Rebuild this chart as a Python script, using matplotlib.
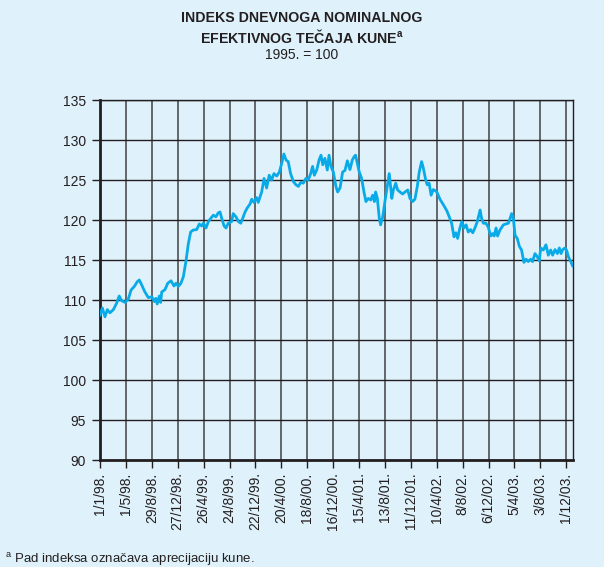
import numpy as np
import pandas as pd
import matplotlib
matplotlib.use("Agg")
import matplotlib.pyplot as plt

# ---- data ----
start_date = "1998-01-01"
days = [0, 11, 23, 34, 46, 62, 77, 89, 101, 116, 131, 144, 159, 173, 182, 193, 208, 224, 240, 252,
        259, 265, 275, 281, 286, 301, 314, 329, 343, 352, 363, 375, 386, 398, 409, 420, 432, 448, 460, 471,
        479, 491, 502, 513, 525, 537, 548, 556, 564, 575, 584, 594, 610, 617, 630, 641, 652, 661, 672, 682,
        695, 703, 713, 726, 733, 749, 760, 772, 784, 795, 806, 819, 831, 842, 852, 862, 872, 883, 896, 908,
        919, 930, 942, 954, 965, 976, 985, 993, 1004, 1015, 1024, 1032, 1042, 1053, 1061, 1070, 1081, 1093, 1101, 1112,
        1124, 1135, 1146, 1158, 1169, 1177, 1184, 1192, 1201, 1212, 1223, 1232, 1243, 1254, 1263, 1271, 1277, 1285, 1294, 1300,
        1310, 1320, 1331, 1340, 1352, 1359, 1370, 1379, 1390, 1402, 1413, 1426, 1436, 1448, 1459, 1470, 1479, 1490, 1498, 1509,
        1516, 1525, 1534, 1544, 1557, 1564, 1575, 1591, 1606, 1618, 1629, 1640, 1649, 1657, 1665, 1676, 1686, 1696, 1706, 1717,
        1727, 1737, 1748, 1761, 1768, 1776, 1788, 1799, 1810, 1819, 1826, 1835, 1842, 1853, 1869, 1881, 1892, 1900, 1907, 1915,
        1923, 1933, 1943, 1953, 1964, 1974, 1984, 1995, 2004, 2015, 2026, 2035, 2042, 2054, 2066, 2077, 2088, 2097, 2108, 2119,
        2128, 2136, 2144, 2154, 2162, 2170, 2181, 2190]
index_values = [108.1, 109.0, 107.9, 108.8, 108.4, 108.8, 109.6, 110.5, 109.9, 109.7, 110.1, 111.25, 111.7, 112.3, 112.5, 111.9, 111.0, 110.3, 110.4, 109.8,
                110.2, 109.5, 110.5, 109.7, 111.0, 111.3, 112.1, 112.4, 111.75, 112.1, 111.7, 112.1, 112.9, 114.8, 117.0, 118.5, 118.75, 118.8, 119.5, 119.25,
                119.6, 119.0, 119.8, 120.2, 120.6, 120.4, 120.9, 121.0, 120.2, 119.25, 119.0, 119.6, 119.8, 120.8, 120.4, 119.8, 119.6, 120.2, 121.0, 121.5,
                122.0, 122.6, 122.2, 122.8, 122.2, 123.5, 125.2, 124.0, 125.6, 125.0, 125.8, 125.5, 126.0, 127.1, 128.25, 127.5, 127.3, 125.8, 124.8, 124.4,
                124.2, 124.7, 124.6, 125.2, 125.0, 125.8, 126.7, 125.6, 126.25, 127.5, 128.1, 126.9, 127.7, 126.25, 128.1, 126.7, 126.0, 124.2, 123.5, 124.0,
                126.0, 126.2, 127.4, 126.3, 127.5, 127.9, 128.1, 127.1, 126.0, 125.2, 123.5, 122.3, 122.7, 122.5, 123.1, 122.3, 123.5, 122.7, 120.2, 119.4,
                120.4, 122.3, 124.2, 125.8, 122.7, 123.75, 124.6, 123.75, 123.5, 123.25, 123.5, 123.75, 122.7, 122.3, 122.6, 124.2, 126.0, 127.3, 126.5, 125.0,
                124.4, 124.6, 123.1, 123.8, 123.6, 123.3, 122.6, 121.9, 121.2, 120.4, 119.6, 117.9, 118.4, 117.7, 118.75, 119.8, 119.0, 119.4, 118.5, 118.8,
                118.4, 119.0, 119.8, 121.25, 120.2, 119.6, 119.6, 119.1, 118.0, 118.3, 118.0, 119.0, 118.0, 118.75, 119.4, 119.5, 119.6, 120.2, 120.8, 120.2,
                118.1, 117.7, 116.7, 116.25, 114.7, 115.1, 114.8, 115.1, 114.8, 115.8, 115.4, 114.9, 116.5, 116.25, 116.9, 115.6, 116.25, 115.6, 116.3, 115.8,
                116.5, 115.8, 116.3, 116.5, 116.2, 115.4, 114.8, 114.25]
tick_labels = ["1/1/98.", "1/5/98.", "29/8/98.", "27/12/98.", "26/4/99.", "24/8/99.", "22/12/99.",
               "20/4/00.", "18/8/00.", "16/12/00.", "15/4/01.", "13/8/01.", "11/12/01.", "10/4/02.",
               "8/8/02.", "6/12/02.", "5/4/03.", "3/8/03.", "1/12/03."]
y_ticks = [90, 95, 100, 105, 110, 115, 120, 125, 130, 135]
end_date = "2003-12-31"

title_line1 = "INDEKS DNEVNOGA NOMINALNOG"
title_line2 = "EFEKTIVNOG TEČAJA KUNE$^{\\mathregular{a}}$"
subtitle = "1995. = 100"
footnote = "$^{\\mathregular{a}}$ Pad indeksa označava aprecijaciju kune."

# ---- style ----
bg = "#dff1fb"
txt = "#231f20"
plt.rcParams["font.family"] = ["Liberation Sans", "DejaVu Sans"]
plt.rcParams["mathtext.fontset"] = "custom"
plt.rcParams["mathtext.rm"] = "Liberation Sans"
plt.rcParams["mathtext.bf"] = "Liberation Sans:bold"

fig = plt.figure(figsize=(6.04, 5.67), dpi=100, facecolor=bg)
ax = fig.add_axes([100 / 604, 1 - 460 / 567, 472.7 / 604, 360 / 567])
ax.set_facecolor(bg)

dates = np.datetime64(start_date) + np.array(days, dtype="timedelta64[D]")
ax.plot(dates, index_values, color="#08abe8", lw=2.0, solid_joinstyle="round", zorder=3)

tick_dates = [pd.to_datetime(l.rstrip("."), format="%d/%m/%y") for l in tick_labels]
ax.set_xticks(tick_dates)
ax.set_xticklabels(tick_labels, rotation=90, fontsize=10, color=txt)
ax.set_xlim(np.datetime64(start_date), np.datetime64(end_date))
ax.set_ylim(90, 135)
ax.set_yticks(y_ticks)
ax.set_yticklabels([str(v) for v in y_ticks], fontsize=10, color=txt)

ax.grid(axis="x", color="#505050", lw=1.2, zorder=1)
ax.grid(axis="y", color="#231f20", lw=1.0, zorder=1)
ax.set_axisbelow(True)
ax.tick_params(axis="both", direction="out", length=6, width=1, color=txt, pad=4)
ax.tick_params(axis="x", pad=3)

for s in ["top", "right"]:
    ax.spines[s].set_linewidth(1.0)
    ax.spines[s].set_color(txt)
for s in ["left", "bottom"]:
    ax.spines[s].set_linewidth(2.0)
    ax.spines[s].set_color(txt)

fig.text(0.5, 1 - 18 / 567, title_line1, ha="center", va="center", fontsize=10.2,
         fontweight="bold", color=txt)
fig.text(0.5, 1 - 37 / 567, title_line2, ha="center", va="center", fontsize=10.2,
         fontweight="bold", color=txt)
fig.text(0.5, 1 - 55 / 567, subtitle, ha="center", va="center", fontsize=10, color=txt)
fig.text(5 / 604, 1 - 560 / 567, footnote, ha="left", va="center", fontsize=9.5, color=txt)

fig.savefig("out.png", dpi=100, facecolor=bg)
